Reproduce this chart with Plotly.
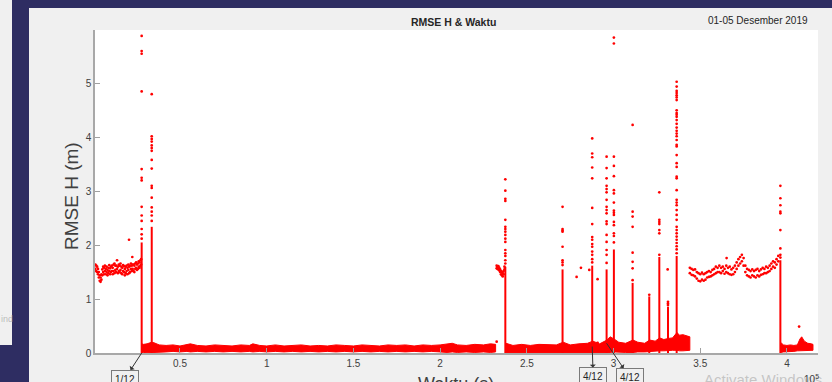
import numpy as np
import plotly.graph_objects as go

# ---------------- data (time in units of 1e5 s, RMSE H in m) ----------------
plateau1_t = [0.012, 0.017, 0.022, 0.027, 0.032, 0.037, 0.042, 0.047, 0.052, 0.057,
              0.062, 0.067, 0.072, 0.077, 0.082, 0.087, 0.092, 0.097, 0.102, 0.107,
              0.112, 0.117, 0.122, 0.127, 0.132, 0.137, 0.142, 0.147, 0.152, 0.157,
              0.162, 0.167, 0.172, 0.177, 0.182, 0.187, 0.192, 0.197, 0.202, 0.207,
              0.212, 0.217, 0.222, 0.227, 0.232, 0.237, 0.242, 0.247, 0.252, 0.257,
              0.262, 0.267, 0.272, 0.276]
plateau1_hi = [1.64, 1.62, 1.60, 1.56, 1.50, 1.44, 1.40, 1.46, 1.55, 1.60,
               1.58, 1.62, 1.56, 1.60, 1.54, 1.58, 1.63, 1.57, 1.60, 1.62,
               1.58, 1.64, 1.66, 1.62, 1.62, 1.72, 1.60, 1.64, 1.62, 1.66,
               1.60, 1.58, 1.63, 1.61, 1.56, 1.60, 1.62, 1.58, 1.64, 1.60,
               1.62, 1.66, 1.62, 1.64, 1.64, 1.62, 1.66, 1.68, 1.64, 1.66,
               1.70, 1.68, 1.72, 1.74]
plateau1_lo = [1.56, 1.52, 1.50, 1.46, 1.40, 1.34, 1.32, 1.36, 1.44, 1.50,
               1.46, 1.52, 1.46, 1.50, 1.44, 1.48, 1.52, 1.46, 1.50, 1.52,
               1.46, 1.52, 1.48, 1.54, 1.50, 1.56, 1.48, 1.52, 1.50, 1.54,
               1.48, 1.46, 1.52, 1.50, 1.44, 1.48, 1.52, 1.46, 1.54, 1.48,
               1.50, 1.56, 1.52, 1.56, 1.52, 1.50, 1.56, 1.58, 1.54, 1.56,
               1.60, 1.58, 1.62, 1.64]

cluster_t = [2.326, 2.331, 2.336, 2.341, 2.346, 2.351, 2.356, 2.361, 2.366, 2.371]
cluster_hi = [1.62, 1.60, 1.61, 1.58, 1.55, 1.52, 1.50, 1.48, 1.52, 1.60]
cluster_lo = [1.57, 1.56, 1.55, 1.53, 1.50, 1.46, 1.44, 1.42, 1.46, 1.55]

plateau2_t = [3.44, 3.45, 3.46, 3.47, 3.48, 3.49, 3.50, 3.51, 3.52, 3.53,
              3.54, 3.55, 3.56, 3.57, 3.58, 3.59, 3.60, 3.61, 3.62, 3.63,
              3.64, 3.65, 3.66, 3.67, 3.68, 3.69, 3.70, 3.71, 3.72, 3.73,
              3.74, 3.75, 3.76, 3.77, 3.78, 3.79, 3.80, 3.81, 3.82, 3.83,
              3.84, 3.85, 3.86, 3.87, 3.88, 3.89, 3.90, 3.91, 3.92, 3.93,
              3.94, 3.95]
plateau2_hi = [1.58, 1.56, 1.54, 1.55, 1.50, 1.48, 1.46, 1.49, 1.46, 1.48,
               1.50, 1.52, 1.50, 1.54, 1.56, 1.60, 1.58, 1.62, 1.58, 1.60,
               1.56, 1.62, 1.58, 1.60, 1.55, 1.58, 1.62, 1.68, 1.74, 1.78,
               1.82, 1.76, 1.62, 1.56, 1.54, 1.52, 1.55, 1.52, 1.54, 1.56,
               1.52, 1.55, 1.58, 1.56, 1.60, 1.58, 1.62, 1.66, 1.70, 1.68,
               1.74, 1.80]
plateau2_lo = [1.48, 1.45, 1.44, 1.42, 1.38, 1.34, 1.33, 1.36, 1.34, 1.36,
               1.40, 1.41, 1.42, 1.44, 1.46, 1.48, 1.50, 1.50, 1.48, 1.52,
               1.47, 1.50, 1.48, 1.46, 1.45, 1.46, 1.50, 1.56, 1.62, 1.66,
               1.70, 1.62, 1.50, 1.44, 1.42, 1.40, 1.44, 1.42, 1.40, 1.44,
               1.42, 1.45, 1.46, 1.48, 1.48, 1.50, 1.52, 1.56, 1.60, 1.58,
               1.64, 1.70]

segA_t = [0.279, 0.29, 0.31, 0.337, 0.35, 0.38, 0.42, 0.46, 0.50, 0.54,
          0.56, 0.60, 0.65, 0.70, 0.75, 0.80, 0.85, 0.90, 0.92, 0.96,
          1.00, 1.05, 1.10, 1.15, 1.20, 1.25, 1.30, 1.35, 1.40, 1.45,
          1.50, 1.55, 1.60, 1.65, 1.70, 1.75, 1.80, 1.85, 1.90, 1.95,
          2.00, 2.04, 2.07, 2.10, 2.15, 2.20, 2.25, 2.29, 2.32]
segA_hi = [0.17, 0.16, 0.17, 0.20, 0.19, 0.15, 0.14, 0.15, 0.13, 0.15,
           0.17, 0.14, 0.13, 0.15, 0.14, 0.13, 0.15, 0.14, 0.17, 0.14,
           0.13, 0.15, 0.13, 0.14, 0.15, 0.13, 0.14, 0.13, 0.15, 0.14,
           0.13, 0.15, 0.14, 0.13, 0.15, 0.14, 0.15, 0.13, 0.15, 0.14,
           0.15, 0.16, 0.18, 0.15, 0.14, 0.16, 0.15, 0.17, 0.16]
segA_lo = [0.00, 0.01, 0.01, 0.00, 0.01, 0.02, 0.02, 0.03, 0.02, 0.03,
           0.02, 0.03, 0.02, 0.03, 0.02, 0.03, 0.02, 0.03, 0.02, 0.03,
           0.02, 0.03, 0.02, 0.03, 0.02, 0.03, 0.02, 0.03, 0.02, 0.03,
           0.02, 0.03, 0.02, 0.03, 0.02, 0.03, 0.02, 0.03, 0.02, 0.03,
           0.02, 0.01, 0.02, 0.01, 0.02, 0.01, 0.02, 0.01, 0.02]

segB_t = [2.380, 2.42, 2.47, 2.52, 2.57, 2.62, 2.67, 2.710, 2.75, 2.80,
          2.85, 2.880, 2.92, 2.962, 2.98, 3.003, 3.03, 3.07, 3.112, 3.14,
          3.18, 3.208, 3.24, 3.266, 3.29, 3.316, 3.34, 3.366, 3.38, 3.40,
          3.42, 3.44]
segB_hi = [0.18, 0.14, 0.16, 0.14, 0.16, 0.15, 0.15, 0.20, 0.15, 0.17,
           0.18, 0.22, 0.17, 0.24, 0.30, 0.26, 0.20, 0.18, 0.24, 0.20,
           0.18, 0.24, 0.22, 0.28, 0.25, 0.27, 0.28, 0.38, 0.33, 0.34,
           0.32, 0.30]
segB_lo = [0.01, 0.02, 0.02, 0.01, 0.02, 0.02, 0.01, 0.01, 0.02, 0.01,
           0.02, 0.01, 0.02, 0.01, 0.01, 0.02, 0.02, 0.01, 0.01, 0.02,
           0.02, 0.03, 0.03, 0.04, 0.04, 0.04, 0.05, 0.05, 0.04, 0.04,
           0.04, 0.05]

segC_t = [3.962, 3.98, 4.00, 4.02, 4.04, 4.06, 4.075, 4.085, 4.10, 4.12, 4.14, 4.15]
segC_hi = [0.20, 0.15, 0.14, 0.15, 0.14, 0.15, 0.26, 0.30, 0.22, 0.18, 0.17, 0.16]
segC_lo = [0.01, 0.02, 0.03, 0.03, 0.03, 0.04, 0.04, 0.05, 0.05, 0.05, 0.05, 0.05]

spike_t = [0.279, 0.337, 2.376, 2.706, 2.877, 2.960, 3.002, 3.110, 3.206, 3.264,
           3.314, 3.364, 3.962]
spike_dense_top = [2.05, 2.34, 1.60, 1.55, 1.62, 1.55, 1.92, 1.30, 1.05, 1.78,
                   0.86, 1.80, 1.72]
spike_peaks = [
    [5.88, 5.60, 5.55, 4.85, 3.41, 3.25, 3.20, 2.71, 2.55, 2.45, 2.30, 2.20, 2.12],
    [4.80, 4.02, 3.97, 3.92, 3.85, 3.80, 3.75, 3.58, 3.42, 3.10, 3.06, 2.88, 2.70, 2.62, 2.55, 2.45],
    [3.22, 3.01, 2.86, 2.82, 2.47, 2.34, 2.30, 2.25, 2.19, 2.12, 2.06, 1.91, 1.85, 1.80, 1.72, 1.66],
    [2.71, 2.30, 2.27, 2.25, 1.97, 1.72, 1.68, 1.63],
    [3.98, 3.70, 3.63, 3.44, 3.24, 2.69, 2.39, 2.15, 2.10, 2.02, 1.97, 1.88, 1.82, 1.74, 1.68],
    [3.64, 3.43, 3.24, 3.10, 3.04, 2.98, 2.84, 2.71, 2.65, 2.59, 2.44, 2.39, 2.19, 2.06, 1.91, 1.82, 1.67],
    [5.85, 5.74, 3.64, 3.47, 3.28, 3.02, 2.96, 2.79, 2.64, 2.60, 2.56, 2.43, 2.37, 2.22, 2.17, 2.05],
    [4.23, 2.62, 2.53, 2.34, 1.86, 1.69, 1.57, 1.35],
    [1.08],
    [2.98, 2.47, 2.43, 2.39, 2.28, 2.22, 1.82],
    [0.95, 0.92, 0.89],
    [5.03, 4.94, 4.86, 4.82, 4.78, 4.74, 4.69, 4.50, 4.45, 4.42, 4.38, 4.32, 4.25, 4.18,
     4.12, 4.07, 4.02, 3.95, 3.86, 3.83, 3.67, 3.52, 3.45, 3.27, 3.24, 3.02, 2.84, 2.79,
     2.74, 2.65, 2.56, 2.47, 2.34, 2.28, 2.22, 2.16, 2.10, 2.04, 1.98, 1.92, 1.85],
    [3.10, 2.87, 2.74, 2.62, 2.59, 2.28, 1.94, 1.82, 1.77],
]

outlier_t = [0.206, 0.225, 2.326, 2.787, 2.812, 2.860, 2.908, 2.908, 3.312, 3.652, 4.070]
outlier_h = [2.10, 1.78, 0.21, 1.41, 1.58, 1.54, 1.37, 0.19, 1.55, 1.76, 0.49]

x_ticks = [0.5, 1, 1.5, 2, 2.5, 3, 3.5, 4]
x_tick_labels = ["0.5", "1", "1.5", "2", "2.5", "3", "3.5", "4"]
y_ticks = [0, 1, 2, 3, 4, 5]
y_tick_labels = ["0", "1", "2", "3", "4", "5"]

SCALE = 1e5  # seconds per axis unit
RED = "#ff0000"

# ---------------- build traces ----------------
fig = go.Figure()

# dense baseline band (polygons between lo and hi)
bx, by = [], []
for t, lo, hi in [(segA_t, segA_lo, segA_hi), (segB_t, segB_lo, segB_hi), (segC_t, segC_lo, segC_hi)]:
    ts = [v * SCALE for v in t]
    bx += ts + ts[::-1] + [None]
    by += list(hi) + list(lo)[::-1] + [None]
fig.add_trace(go.Scatter(x=bx, y=by, mode="lines", fill="toself", fillcolor=RED,
                         line=dict(color=RED, width=1.0), hoverinfo="skip"))

# dense spike stems
sx, sy = [], []
for t, top in zip(spike_t, spike_dense_top):
    sx += [t * SCALE, t * SCALE, None]
    sy += [0, top, None]
fig.add_trace(go.Scatter(x=sx, y=sy, mode="lines", line=dict(color=RED, width=2.0),
                         hoverinfo="skip"))

# sparse spike points
px_, py_ = [], []
for t, peaks in zip(spike_t, spike_peaks):
    px_ += [t * SCALE] * len(peaks)
    py_ += peaks
fig.add_trace(go.Scatter(x=px_, y=py_, mode="markers",
                         marker=dict(color=RED, size=2.7, line=dict(width=0))))

# plateau points
plx, ply = [], []
for t, hi, lo in [(plateau1_t, plateau1_hi, plateau1_lo), (cluster_t, cluster_hi, cluster_lo),
                  (plateau2_t, plateau2_hi, plateau2_lo)]:
    ts = [v * SCALE for v in t]
    plx += ts + ts
    ply += list(hi) + list(lo)
plx += [v * SCALE for v in outlier_t]
ply += outlier_h
fig.add_trace(go.Scatter(x=plx, y=ply, mode="markers",
                         marker=dict(color=RED, size=2.7, line=dict(width=0))))

# ---------------- layout ----------------
W, H = 832, 382
L, R, T, B = 95, 818, 30, 353


def pxx(px):
    return (px - L) / (R - L)


def pyy(py):
    return (B - py) / (B - T)


NAVY = "#2e2d62"
shapes = [
    dict(type="rect", xref="paper", yref="paper", x0=pxx(12), x1=pxx(840), y0=pyy(8), y1=pyy(-5),
         fillcolor=NAVY, line=dict(width=0), layer="below"),
    dict(type="rect", xref="paper", yref="paper", x0=pxx(12), x1=pxx(29), y0=pyy(390), y1=pyy(-5),
         fillcolor=NAVY, line=dict(width=0), layer="below"),
    dict(type="rect", xref="paper", yref="paper", x0=pxx(-5), x1=pxx(29), y0=pyy(390), y1=pyy(345),
         fillcolor=NAVY, line=dict(width=0), layer="below"),
]

FONT = "Liberation Sans, Arial, sans-serif"
TXT = "#404040"
annotations = [
    dict(text="<b>RMSE H &amp; Waktu</b>", xref="paper", yref="paper", x=pxx(453), y=pyy(22.5),
         showarrow=False, font=dict(family=FONT, size=10.5, color="#262626"),
         xanchor="center", yanchor="middle"),
    dict(text="01-05 Desember 2019", xref="paper", yref="paper", x=pxx(758), y=pyy(21),
         showarrow=False, font=dict(family=FONT, size=10, color="#262626"),
         xanchor="center", yanchor="middle"),
    dict(text="RMSE H (m)", xref="paper", yref="paper", x=pxx(72), y=pyy(196), textangle=-90,
         showarrow=False, font=dict(family=FONT, size=19, color=TXT),
         xanchor="center", yanchor="middle"),
    dict(text="Waktu (s)", xref="paper", yref="paper", x=pxx(456), y=pyy(372),
         showarrow=False, font=dict(family=FONT, size=18, color=TXT),
         xanchor="center", yanchor="top"),
    dict(text="Activate Windows", xref="paper", yref="paper", x=pxx(702), y=pyy(369),
         showarrow=False, font=dict(family=FONT, size=15, color="rgba(160,160,160,0.55)"),
         xanchor="left", yanchor="top"),
    dict(text="10<sup>5</sup>", xref="paper", yref="paper", x=pxx(802), y=pyy(371),
         showarrow=False, font=dict(family=FONT, size=10, color=TXT),
         xanchor="left", yanchor="top"),
    dict(text="ind", xref="paper", yref="paper", x=pxx(-1), y=pyy(319),
         showarrow=False, font=dict(family=FONT, size=9, color="rgba(150,150,150,0.6)"),
         xanchor="left", yanchor="middle"),
]

box_style = dict(showarrow=True, arrowhead=2, arrowsize=1.1, arrowwidth=1, arrowcolor="#333333",
                 arrowside="start", bordercolor="#7a7a7a", borderwidth=1, borderpad=3,
                 bgcolor="#f0f0f0", font=dict(family=FONT, size=10, color="#262626"),
                 xref="x", yref="y", axref="pixel", ayref="pixel")
annotations += [
    dict(text="1/12", x=spike_t[0] * SCALE, y=0, ax=-17, ay=26, **box_style),
    dict(text="4/12", x=spike_t[4] * SCALE, y=0.12, ax=1, ay=30, **box_style),
    dict(text="4/12", x=spike_t[5] * SCALE, y=0.18, ax=23, ay=34, **box_style),
]

axis_common = dict(showline=True, linecolor="#a8a8a8", linewidth=1.5, ticks="inside", ticklen=5,
                   tickcolor="#a0a0a0", tickwidth=1, showgrid=False, zeroline=False,
                   tickfont=dict(family=FONT, size=10, color=TXT), mirror=False)

fig.update_layout(
    width=W, height=H,
    margin=dict(l=L, r=W - R, t=T, b=H - B),
    paper_bgcolor="#f0f0f0", plot_bgcolor="white",
    showlegend=False,
    shapes=shapes, annotations=annotations,
    xaxis=dict(range=[0.0099 * SCALE, 4.179 * SCALE], tickvals=[v * SCALE for v in x_ticks],
               ticktext=x_tick_labels, **axis_common),
    yaxis=dict(range=[0, 5.99], tickvals=y_ticks, ticktext=y_tick_labels, **axis_common),
)

fig.write_html("out.html", config={"displayModeBar": False})
